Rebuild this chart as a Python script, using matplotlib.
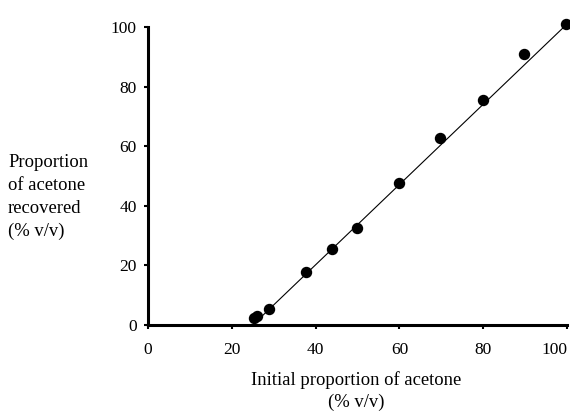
import matplotlib
matplotlib.use('Agg')
import matplotlib.pyplot as plt

plt.rcParams['font.family'] = ['Liberation Serif', 'DejaVu Serif']

# measured points
initial = [25.2, 26.1, 28.8, 37.6, 44.0, 49.9, 60.0, 69.8, 79.9, 89.7, 99.8]
recovered = [2.3, 3.0, 5.4, 17.8, 25.5, 32.5, 47.7, 62.8, 75.5, 90.9, 101.0]

# fitted line
fit_x = [25.0, 100.0]
fit_y = [0.0, 101.0]

ticks = [0, 20, 40, 60, 80, 100]

fig = plt.figure(figsize=(5.7, 4.11), dpi=100)
ax = fig.add_axes([0.2596, 0.2092, 0.7351, 0.7250])

ax.plot(fit_x, fit_y, color='black', linewidth=0.8, clip_on=False)
ax.plot(initial, recovered, 'o', color='black', markersize=7.2, clip_on=False)

ax.set_xlim(0, 100)
ax.set_ylim(0, 100)
ax.set_xticks(ticks)
ax.set_yticks(ticks)

for side in ['top', 'right']:
    ax.spines[side].set_visible(False)
for side in ['left', 'bottom']:
    ax.spines[side].set_linewidth(2.2)

ax.tick_params(axis='x', direction='out', length=3, width=1.5, pad=9, labelsize=12.5)
ax.tick_params(axis='y', direction='out', length=3, width=1.5, pad=5, labelsize=12.5)
ax.get_xticklabels()[-1].set_horizontalalignment('right')

fig.text(0.014, 1 - 197 / 411, 'Proportion\nof acetone\nrecovered\n(% v/v)',
         ha='left', va='center', fontsize=13.4, linespacing=1.45)
fig.text(356 / 570, 1 - 391 / 411, 'Initial proportion of acetone\n(% v/v)',
         ha='center', va='center', fontsize=13.4, linespacing=1.4)

fig.savefig('out.png', dpi=100)
